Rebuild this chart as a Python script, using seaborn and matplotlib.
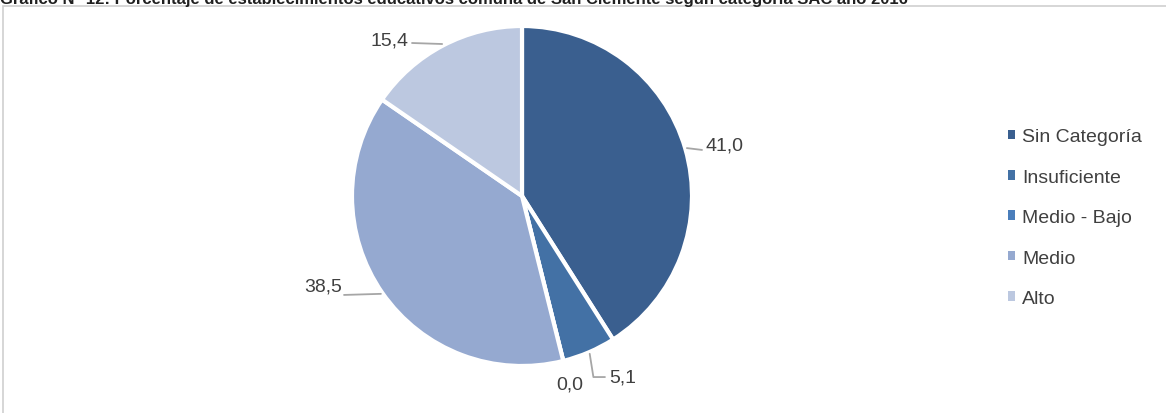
import numpy as np
import seaborn as sns
import matplotlib.pyplot as plt
from matplotlib.patches import Rectangle

# datos
categorias = ['Sin Categoría', 'Insuficiente', 'Medio - Bajo', 'Medio', 'Alto']
porcentajes = [41.0, 5.1, 0.0, 38.5, 15.4]
colores = ['#3A5F8F', '#4371A5', '#4A7EBB', '#95A9D0', '#BCC8E0']
titulo = ('Gráfico N° 12: Porcentaje de establecimientos educativos comuna de '
          'San Clemente según categoría SAC año 2016')

sns.set_theme(style='white')
plt.rcParams['font.family'] = ['Liberation Sans', 'DejaVu Sans']
txt_color = '#404040'
fs = 14

W, H = 1166, 414
fig = plt.figure(figsize=(W / 100, H / 100), dpi=100)

# marco gris
fig.patches.append(Rectangle((3 / W, -0.1), 1.2, (H - 7) / H + 0.1, transform=fig.transFigure,
                             fill=False, edgecolor='#d0d0d0', linewidth=1.2, zorder=0))
fig.text(0.0, 1.0 + 1 / H, titulo, ha='left', va='center', fontsize=12,
         fontweight='bold', color='#202020')

R = 170.0
cx, cy = 522, H - 197
ax = fig.add_axes([(cx - 250) / W, (cy - 200) / H, 500 / W, 400 / H])
wedges, _ = ax.pie(porcentajes, colors=colores, startangle=90, counterclock=False,
                   wedgeprops=dict(edgecolor='white', linewidth=3), radius=1.0)
ax.set_xlim(-250 / R, 250 / R)
ax.set_ylim(-200 / R, 200 / R)
ax.set_aspect('equal', adjustable='box')
ax.axis('off')

# posición de etiquetas (texto y quiebre de la guía)
etq_pos = [
    dict(xy=(1.082, 0.30), ha='left', guia=[(1.059, 0.271)]),
    dict(xy=(0.512, -1.065), ha='left', guia=[(0.42, -1.065), (0.488, -1.065)]),
    dict(xy=(0.282, -1.106), ha='center', guia=None),
    dict(xy=(-1.059, -0.53), ha='right', guia=[(-1.047, -0.582)]),
    dict(xy=(-0.67, 0.918), ha='right', guia=[(-0.647, 0.90)]),
]
for w, val, p in zip(wedges, porcentajes, etq_pos):
    ang = np.deg2rad((w.theta1 + w.theta2) / 2)
    ancla = (1.01 * np.cos(ang), 1.01 * np.sin(ang))
    if p['guia']:
        pts = [ancla] + p['guia']
        ax.plot([q[0] for q in pts], [q[1] for q in pts], color='#a6a6a6', lw=1.3,
                clip_on=False)
    ax.text(p['xy'][0], p['xy'][1], f'{val:.1f}'.replace('.', ','), ha=p['ha'],
            va='center', fontsize=fs, color=txt_color)

# leyenda
leg = fig.legend(handles=wedges, labels=categorias, loc='upper left',
                 bbox_to_anchor=(990 / W, 1 - 112 / H), frameon=False, fontsize=fs,
                 handlelength=0.4, handleheight=0.4, handletextpad=0.35,
                 labelspacing=1.2, labelcolor=txt_color)
for h in leg.legend_handles:
    h.set_edgecolor('none')

fig.savefig('out.png', dpi=100)
